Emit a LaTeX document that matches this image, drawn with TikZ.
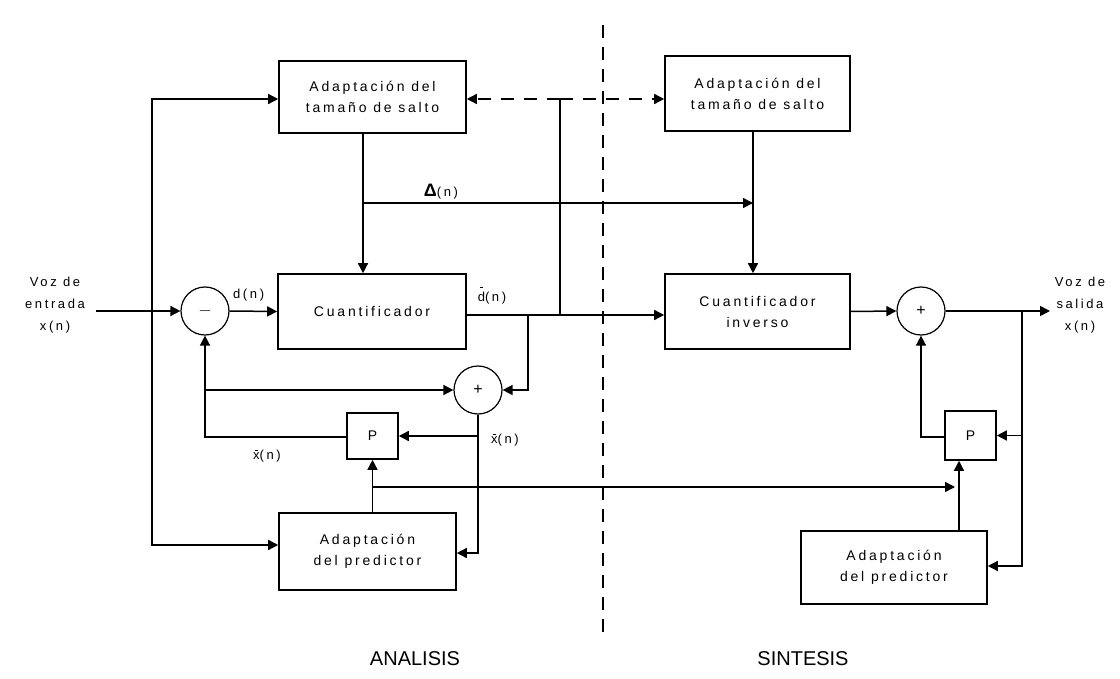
\documentclass[tikz,border=0pt]{standalone}
\usepackage{fontspec}
\setmainfont{Liberation Sans}
\newfontfamily\boxfont[LetterSpace=20]{Liberation Sans}
\usetikzlibrary{arrows.meta,calc}

% letter with a short bar above it (optional height of the bar)
\newcommand{\barred}[2][1.25ex]{{\ooalign{#2\cr\hidewidth\raisebox{#1}{\rule{2.5pt}{0.9pt}}\hidewidth\cr}}}

\tikzset{
  wire/.style={line width=1.5pt},
  arr/.style={wire,-{Triangle[length=10pt,width=10pt]}},
  blk/.style={draw,line width=1.6pt,rectangle,align=center,inner sep=0pt,
    font=\boxfont\fontsize{14}{21}\selectfont},
  sumnode/.style={draw,line width=1.2pt,circle,minimum size=48pt,inner sep=0pt,
    font=\fontsize{16}{16}\selectfont},
  sig/.style={font=\boxfont\fontsize{13}{16}\selectfont,inner sep=0pt},
  side/.style={font=\fontsize{20}{20}\selectfont,inner sep=0pt}
}

\begin{document}
\begin{tikzpicture}[x=1pt,y=-1pt]
\useasboundingbox (0,0) rectangle (1120,679);

% analysis / synthesis divider
\draw[line width=1.5pt,dash pattern=on 13pt off 9pt] (603,25) -- (603,640);
\node[side] (ana) at (415,659) {ANALISIS};
\node[side] (sin) at (803,659) {SINTESIS};

% blocks of the encoder
\node[blk,minimum width=187pt,minimum height=72pt] (salto1) at (372.5,97)
  {Adaptación del\\tamaño de salto};
\node[blk,minimum width=188pt,minimum height=75pt] (cuant) at (372,311.5)
  {Cuantificador};
\node[blk,minimum width=51pt,minimum height=46pt] (pA) at (372.5,436) {P};
\node[blk,minimum width=177pt,minimum height=77pt] (predA) at (367.5,551.5)
  {Adaptación\\del predictor};
\node[sumnode] (sumA) at (205,311) {$-$};
\node[sumnode] (sumB) at (478,390) {+};

% blocks of the decoder
\node[blk,minimum width=185pt,minimum height=75pt] (salto2) at (757.5,93.5)
  {Adaptación del\\tamaño de salto};
\node[blk,minimum width=185pt,minimum height=75pt] (cuantinv) at (757.5,311.5)
  {Cuantificador\\inverso};
\node[blk,minimum width=51pt,minimum height=49pt] (pS) at (970.5,435.5) {P};
\node[blk,minimum width=186pt,minimum height=73pt] (predS) at (894,567.5)
  {Adaptación\\del predictor};
\node[sumnode] (sumC) at (921,311) {+};

% input and output texts
\node[sig,align=center,font=\boxfont\fontsize{13}{22}\selectfont] (vin) at (55,305)
  {Voz de\\entrada\\x(n)};
\node[sig,align=center,font=\boxfont\fontsize{13}{22}\selectfont] (vout) at (1080,305)
  {Voz de\\salida\\x(n)};

% helper points
\coordinate (in) at (96,311);
\coordinate (out) at (1050,311);
\coordinate (jin) at (152,311);
\coordinate (xd) at (363,0);
\coordinate (xs) at (753,0);
\coordinate (yq) at (0,315);
\coordinate (jq1) at (528,315);
\coordinate (jq2) at (560,315);
\coordinate (jT) at (560,99);
\coordinate (jD) at (363,203);
\coordinate (eD) at (753,203);
\coordinate (jP) at (372,487);
\coordinate (eP) at (955,487);
\coordinate (xps) at (959,0);
\coordinate (jo) at (1022,311);

% encoder wiring
\draw[arr] (in) -- (sumA.west);
\draw[arr] (jin) |- (salto1.west |- 0,99);
\draw[arr] (jin) |- (predA.west |- 0,545);
\draw[arr] (sumA.east) -- node[sig,above=9pt,pos=0.4] (ld) {d(n)} (cuant.west);
\draw[wire] (salto1.south -| xd) -- (jD);
\draw[arr] (jD) -- (cuant.north -| xd);
\draw[arr] (jD) -- node[pos=0.2,above=3pt,inner sep=0pt] (lD)
  {{\fontsize{18}{18}\selectfont\bfseries Δ}{\boxfont\fontsize{13}{16}\selectfont(n)}} (eD);
\draw[arr] (cuant.east |- yq) -- (cuantinv.west |- yq);
\node[sig] (ldq) at (492,298) {\barred[2.0ex]{d}(n)};
\draw[arr] (jq1) |- (sumB.east);
\draw[wire] (jq2) -- (jT);
\draw[arr,dash pattern=on 13pt off 10pt] (jT) -- (salto1.east |- jT);
\draw[arr,dash pattern=on 13pt off 10pt] (jT) -- (salto2.west |- jT);
\draw[arr] (pA.west |- 0,437) -| (sumA.south);
\draw[arr] (sumA.south |- sumB.west) -- (sumB.west);
\draw[arr] (sumB.south) |- (predA.east |- 0,553);
\draw[arr] (sumB.south |- pA.east) -- (pA.east);
\node[sig] (lxh) at (505,440) {\barred{x}(n)};
\node[sig] (lxt) at (267,456) {\barred{x}(n)};
\draw[arr] (pA.south |- predA.north) -- (pA.south);
\draw[arr] (jP) -- (eP);

% decoder wiring
\draw[arr] (salto2.south -| xs) -- (cuantinv.north -| xs);
\draw[arr] (cuantinv.east) -- (sumC.west);
\draw[arr] (sumC.east) -- (out);
\draw[arr] (jo) |- (predS.east |- 0,566);
\draw[arr] (jo |- pS.east) -- (pS.east);
\draw[arr] (pS.west |- 0,437) -| (sumC.south);
\draw[arr] (predS.north -| xps) -- (pS.south -| xps);
\end{tikzpicture}
\end{document}
